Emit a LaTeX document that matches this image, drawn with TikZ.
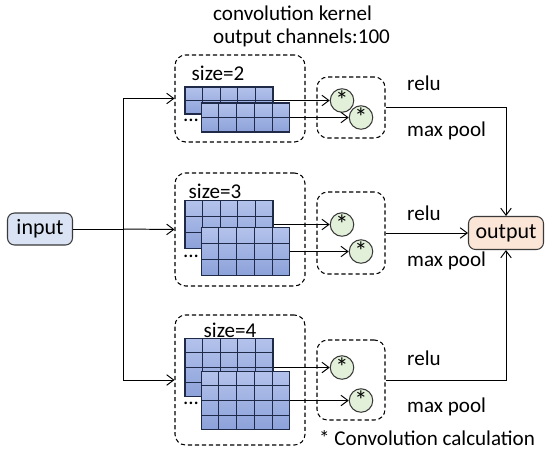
\documentclass[tikz,border=0pt]{standalone}
\usepackage{fontspec}
\setmainfont{Carlito}
\usetikzlibrary{calc,arrows.meta}

\definecolor{kerneltop}{HTML}{B3C2EB}
\definecolor{kernelbot}{HTML}{8DA2DA}
\definecolor{gridcol}{HTML}{1F2A48}
\definecolor{convfill}{HTML}{E2F0D9}
\definecolor{infill}{HTML}{DAE3F3}
\definecolor{outfill}{HTML}{FBE5D6}
\definecolor{edgecol}{HTML}{3A3A3A}

\newcommand{\convstar}{\raisebox{-0.45ex}{*}}

\tikzset{
  every node/.style={font=\fontsize{12}{14}\selectfont},
  conn/.style={-{Straight Barb[length=4pt,width=6pt]},line width=0.55pt},
  plain/.style={line width=0.55pt},
  groupbox/.style={draw,dashed,dash pattern=on 2.4pt off 1.6pt,rounded corners=6pt,line width=0.6pt,inner sep=0pt},
  kernel/.style={draw=gridcol,line width=0.6pt,top color=kerneltop,bottom color=kernelbot,
    minimum width=1.76cm,inner sep=0pt},
  conv/.style={circle,draw=edgecol,fill=convfill,line width=0.6pt,minimum size=0.47cm,inner sep=0pt,
    font=\fontsize{15}{15}\selectfont},
  io/.style={draw=edgecol,rounded corners=4pt,line width=0.6pt,inner sep=0pt,font=\fontsize{12.5}{14}\selectfont},
}

% name, centre x, centre y, rows, row height
\newcommand{\kernel}[5]{%
  \node[kernel,minimum height=#4*#5*0.02cm] (#1) at (#2,#3) {};
  \foreach \i in {1,...,4}
    \draw[gridcol,line width=0.6pt] ($(#1.north west)!\i/5!(#1.north east)$) -- ($(#1.south west)!\i/5!(#1.south east)$);
  \foreach \j in {2,...,#4}
    \draw[gridcol,line width=0.6pt] ($(#1.north west)!{(\j-1)/#4}!(#1.south west)$) -- ($(#1.north east)!{(\j-1)/#4}!(#1.south east)$);
}

\begin{document}
\begin{tikzpicture}[x=0.02cm,y=-0.02cm]
\useasboundingbox (0,0) rectangle (550,454);

\node[anchor=base west] (title1) at (207,20) {convolution kernel};
\node[anchor=base west] (title2) at (207,43) {output channels:100};

% input / output
\node[io,fill=infill,minimum width=1.3cm,minimum height=0.64cm] (in) at (40,229) {input};
\node[io,fill=outfill,minimum width=1.5cm,minimum height=0.66cm] (out) at (506,233) {output};

% kernel groups
\node[groupbox,minimum width=2.6cm,minimum height=1.74cm] (box2) at (240,98.5) {};
\node[groupbox,minimum width=2.6cm,minimum height=2.26cm] (box3) at (240,229.5) {};
\node[groupbox,minimum width=2.6cm,minimum height=2.6cm] (box4) at (240,380) {};

\node (lab2) at (218,73) {size=2};
\node (lab3) at (215,191) {size=3};
\node (lab4) at (230,330) {size=4};

\kernel{k2a}{229}{100.5}{2}{13.5}
\kernel{k2b}{245.5}{117.5}{2}{14.5}
\kernel{k3a}{229}{224.5}{3}{15.7}
\kernel{k3b}{245.5}{251.5}{3}{15.7}
\kernel{k4a}{229}{367.5}{4}{14.3}
\kernel{k4b}{245.5}{400.5}{4}{14.3}

\node (dots2) at (191,120) {...};
\node (dots3) at (191,256) {...};
\node (dots4) at (191,403) {...};

% convolution groups
\node[groupbox,minimum width=1.36cm,minimum height=1.22cm] (cv2) at (351,107.5) {};
\node[groupbox,minimum width=1.36cm,minimum height=1.64cm] (cv3) at (351,233) {};
\node[groupbox,minimum width=1.36cm,minimum height=1.6cm] (cv4) at (351,380) {};

\node[conv] (c2a) at (342,100.5) {\convstar};
\node[conv] (c2b) at (361,117.5) {\convstar};
\node[conv] (c3a) at (342,224.5) {\convstar};
\node[conv] (c3b) at (361,251.5) {\convstar};
\node[conv] (c4a) at (342,367.5) {\convstar};
\node[conv] (c4b) at (361,400.5) {\convstar};

\node[anchor=west] (relu2) at (401,83) {relu};
\node[anchor=west] (pool2) at (401,131) {max pool};
\node[anchor=west] (relu3) at (401,213) {relu};
\node[anchor=west] (pool3) at (401,261) {max pool};
\node[anchor=west] (relu4) at (401,358) {relu};
\node[anchor=west] (pool4) at (401,407) {max pool};

\node[anchor=west] (note) at (313,438) {* Convolution calculation};

% connectors
\coordinate (split) at (123,229);
\draw[plain] (in) -- (split);
\draw[conn] (split) |- (box2);
\draw[conn] (split) -- (box3.west);
\draw[conn] (split) |- (box4);

\draw[conn] (k2a.east) -- (c2a);
\draw[conn] (k2b.east) -- (c2b);
\draw[conn] (k3a.east) -- (c3a);
\draw[conn] (k3b.east) -- (c3b);
\draw[conn] (k4a.east) -- (c4a);
\draw[conn] (k4b.east) -- (c4b);

\draw[conn] (cv2.east) -| (out.north);
\draw[conn] (cv3.east) -- (out.west);
\draw[conn] (cv4.east) -| (out.south);
\end{tikzpicture}
\end{document}
